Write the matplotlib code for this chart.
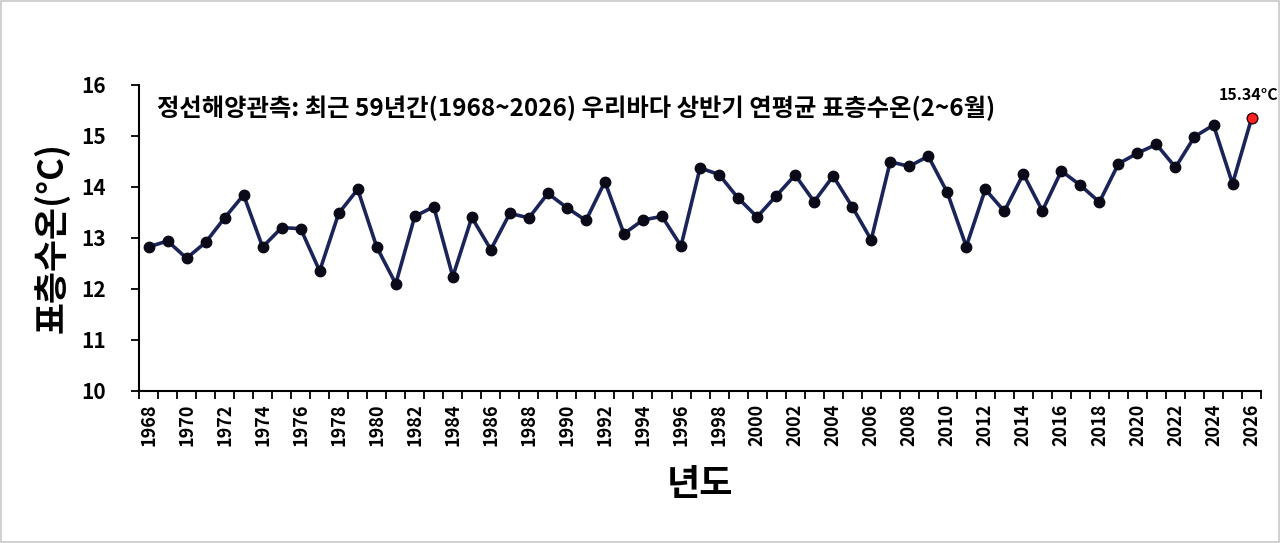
import matplotlib
matplotlib.use("Agg")
import matplotlib.pyplot as plt
from matplotlib.patches import Rectangle
import numpy as np

plt.rcParams['font.family'] = ['Noto Sans CJK KR', 'DejaVu Sans']

years = list(range(1968, 2027))
temps = [12.82, 12.94, 12.60, 12.91, 13.39, 13.84, 12.82, 13.20, 13.18, 12.35,
         13.48, 13.95, 12.82, 12.10, 13.42, 13.61, 12.24, 13.40, 12.77, 13.48,
         13.39, 13.87, 13.59, 13.34, 14.10, 13.08, 13.35, 13.42, 12.84, 14.37,
         14.24, 13.78, 13.41, 13.82, 14.23, 13.71, 14.21, 13.61, 12.96, 14.49,
         14.40, 14.60, 13.89, 12.83, 13.95, 13.52, 14.25, 13.53, 14.31, 14.03,
         13.70, 14.45, 14.66, 14.83, 14.38, 14.98, 15.21, 14.06, 15.34]
title = "정선해양관측: 최근 59년간(1968~2026) 우리바다 상반기 연평균 표층수온(2~6월)"
last_label = "15.34°C"
ylabel = "표층수온(°C)"
xlabel = "년도"

fig = plt.figure(figsize=(12.8, 5.43), dpi=100)
fig.patches.append(Rectangle((0.001, 0.002), 0.998, 0.996, transform=fig.transFigure,
                             fill=False, edgecolor='#c8c8c8', linewidth=1.2))
ax = fig.add_axes([0.1086, 0.280, 0.8766, 0.564])

x = np.arange(len(years))
ax.plot(x, temps, color='#1a2458', linewidth=2.6, marker='o', markersize=7.5,
        markerfacecolor='#0a0a18', markeredgecolor='#0a0a18', zorder=3)
ax.plot(x[-1], temps[-1], marker='o', markersize=7.5, markerfacecolor='#ff2020',
        markeredgecolor='#3a0000', markeredgewidth=0.8, zorder=4)

ax.set_xlim(-0.5, len(years) - 0.5)
ax.set_ylim(10, 16)
ax.set_yticks(range(10, 17))
ax.set_yticklabels([str(v) for v in range(10, 17)], fontsize=15, fontweight='bold')

ax.set_xticks(x[::2])
ax.set_xticklabels([str(y) for y in years[::2]], rotation=90, fontsize=13, fontweight='bold')
ax.set_xticks(np.arange(-0.5, len(years)), minor=True)
ax.tick_params(axis='x', which='major', length=0, pad=9)
ax.tick_params(axis='x', which='minor', length=6, width=1.3, direction='out')
ax.tick_params(axis='y', which='major', length=6, width=1.3, direction='out', pad=18)

for s in ['top', 'right']:
    ax.spines[s].set_visible(False)
for s in ['left', 'bottom']:
    ax.spines[s].set_linewidth(1.5)

ax.text(0.016, 0.924, title, transform=ax.transAxes, fontsize=17.5, fontweight='bold',
        ha='left', va='center')
ax.annotate(last_label, (x[-1], temps[-1]), xytext=(-2, 11), textcoords='offset points',
            ha='center', va='bottom', fontsize=11.5, fontweight='bold')

ax.set_ylabel(ylabel, fontsize=25, fontweight='bold', labelpad=8)
ax.set_xlabel(xlabel, fontsize=26, fontweight='bold', labelpad=14)

fig.savefig('out.png', dpi=100)
